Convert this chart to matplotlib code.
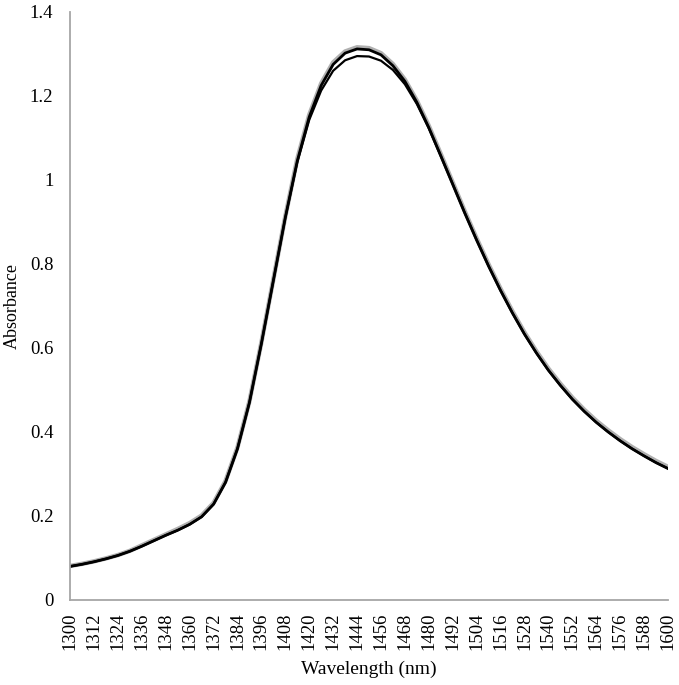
import matplotlib
matplotlib.use("Agg")
import matplotlib.pyplot as plt

plt.rcParams['font.family'] = ['Liberation Serif', 'DejaVu Serif']

wavelength = [1300, 1306, 1312, 1318, 1324, 1330, 1336, 1342, 1348, 1354, 1360, 1366, 1372, 1378,
              1384, 1390, 1396, 1402, 1408, 1414, 1420, 1426, 1432, 1438, 1444, 1450, 1456, 1462,
              1468, 1474, 1480, 1486, 1492, 1498, 1504, 1510, 1516, 1522, 1528, 1534, 1540, 1546,
              1552, 1558, 1564, 1570, 1576, 1582, 1588, 1594, 1600]

abs_a = [0.080, 0.085, 0.091, 0.098, 0.106, 0.116, 0.128, 0.141, 0.154, 0.166, 0.180, 0.198, 0.228, 0.280,
         0.360, 0.470, 0.610, 0.760, 0.910, 1.045, 1.150, 1.225, 1.275, 1.302, 1.312, 1.310, 1.298, 1.272,
         1.235, 1.185, 1.125, 1.058, 0.990, 0.922, 0.857, 0.795, 0.737, 0.683, 0.633, 0.588, 0.547, 0.511,
         0.478, 0.449, 0.423, 0.400, 0.379, 0.360, 0.343, 0.327, 0.313]

abs_b = [0.080, 0.085, 0.091, 0.098, 0.106, 0.116, 0.128, 0.141, 0.154, 0.166, 0.180, 0.198, 0.228, 0.280,
         0.360, 0.470, 0.610, 0.760, 0.910, 1.042, 1.143, 1.213, 1.260, 1.285, 1.295, 1.294, 1.284, 1.262,
         1.228, 1.181, 1.123, 1.057, 0.990, 0.922, 0.857, 0.795, 0.737, 0.683, 0.633, 0.588, 0.547, 0.511,
         0.478, 0.449, 0.423, 0.400, 0.379, 0.360, 0.343, 0.327, 0.313]

abs_c = [0.081, 0.086, 0.092, 0.099, 0.107, 0.117, 0.130, 0.143, 0.156, 0.169, 0.183, 0.201, 0.231, 0.283,
         0.363, 0.473, 0.613, 0.763, 0.913, 1.050, 1.155, 1.230, 1.280, 1.306, 1.316, 1.314, 1.302, 1.276,
         1.239, 1.189, 1.129, 1.062, 0.994, 0.926, 0.861, 0.799, 0.741, 0.687, 0.637, 0.592, 0.551, 0.515,
         0.482, 0.453, 0.427, 0.404, 0.383, 0.364, 0.347, 0.331, 0.317]

xticks = list(range(1300, 1601, 12))
yticks = [0, 0.2, 0.4, 0.6, 0.8, 1, 1.2, 1.4]
ytick_labels = ['0', '0.2', '0.4', '0.6', '0.8', '1', '1.2', '1.4']

fig = plt.figure(figsize=(6.79, 6.85), dpi=100)
ax = fig.add_axes([0.1031, 0.1241, 0.8807, 0.8584])

ax.plot(wavelength, abs_c, color='#b0b0b0', lw=3.2, solid_capstyle='round')
ax.plot(wavelength, abs_a, color='black', lw=2.0)
ax.plot(wavelength, abs_b, color='black', lw=1.6)

ax.set_xlim(1300, 1600)
ax.set_ylim(0, 1.4)
ax.set_xticks(xticks)
ax.set_xticklabels([str(t) for t in xticks], rotation=90, fontsize=13.5)
ax.set_yticks(yticks)
ax.set_yticklabels(ytick_labels, fontsize=13.5)
ax.tick_params(axis='x', length=0, pad=9)
ax.tick_params(axis='y', length=0, pad=12)

for s in ['top', 'right']:
    ax.spines[s].set_visible(False)
for s in ['left', 'bottom']:
    ax.spines[s].set_color('#a6a6a6')
    ax.spines[s].set_linewidth(1.3)

ax.set_xlabel('Wavelength (nm)', fontsize=14)
ax.set_ylabel('Absorbance', fontsize=13)
ax.xaxis.set_label_coords(0.5, -0.104)
ax.yaxis.set_label_coords(-0.082, 0.5)

fig.savefig('out.png', dpi=100)
